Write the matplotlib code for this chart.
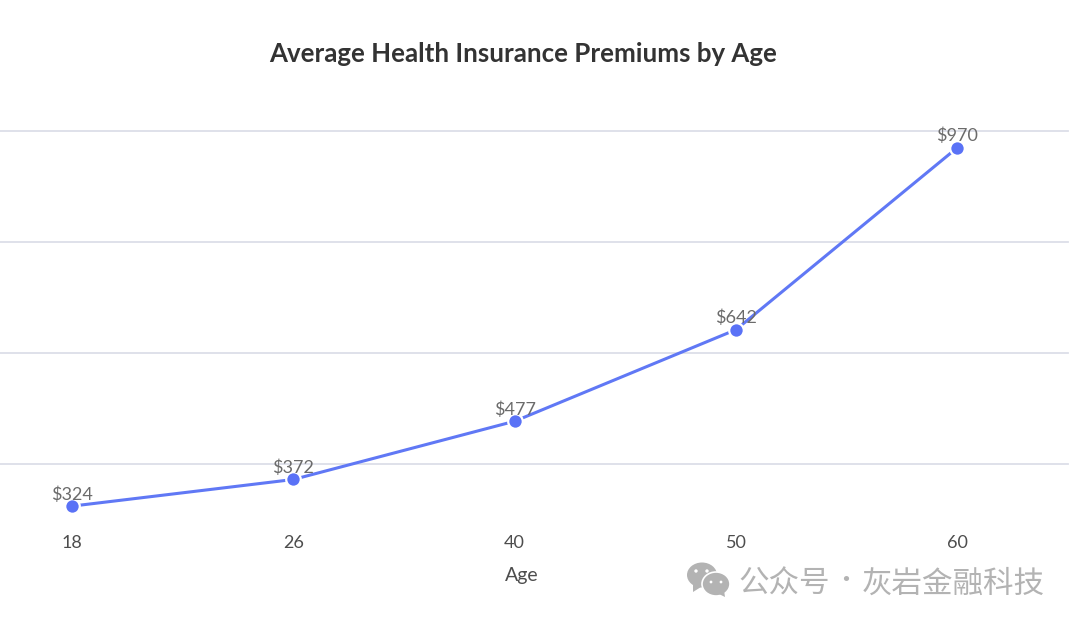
import matplotlib
matplotlib.use('Agg')
import matplotlib.pyplot as plt
from matplotlib.patches import Ellipse, Polygon

ages = ['18', '26', '40', '50', '60']
premiums = [324, 372, 477, 642, 970]
value_labels = ['$324', '$372', '$477', '$642', '$970']
grid_values = [400, 600, 800, 1000]

W, H = 1080, 624
fig = plt.figure(figsize=(W / 100, H / 100), dpi=100, facecolor='white')

# main axes, runs from the left edge to the end of the gridlines
ax = fig.add_axes([0, (H - 525) / H, 1068 / W, (525 - 131) / H])
x = list(range(len(ages)))
ax.set_xlim(-0.325, 4.5)
ax.set_ylim(290, 1000)

for v in grid_values:
    ax.axhline(v, color='#dcdee8', lw=1.3, zorder=1, clip_on=False)

ax.plot(x, premiums, color='#6078f5', lw=2.2, zorder=2)
ax.plot(x, premiums, 'o', color='#5a72f6', ms=10.5, mec='white', mew=1.6, zorder=3)

for i, v in enumerate(premiums):
    ax.annotate(value_labels[i], (x[i], v), xytext=(0, 2.5), textcoords='offset points',
                ha='center', va='bottom', fontsize=13, color='#6b6b6b',
                family='Lato', zorder=4)

ax.set_xticks(x)
ax.set_xticklabels(ages, fontsize=13, color='#4d4d4d', family='Lato')
ax.tick_params(axis='x', length=0, pad=7.5)
ax.set_yticks([])
for s in ax.spines.values():
    s.set_visible(False)

# overlay in pixel coordinates for title, axis label and watermark
ov = fig.add_axes([0, 0, 1, 1], zorder=5)
ov.set_xlim(0, W)
ov.set_ylim(H, 0)
ov.axis('off')
ov.patch.set_alpha(0)

ov.text(523, 54, 'Average Health Insurance Premiums by Age', ha='center', va='center',
        fontsize=18.6, fontweight='bold', color='#333333', family='Lato')
ov.text(522, 576, 'Age', ha='center', va='center', fontsize=14, color='#4d4d4d', family='Lato')

# watermark
grey = '#b3b3b3'
ov.add_patch(Ellipse((702, 575), 30, 25, color=grey, lw=0))
ov.add_patch(Polygon([(693, 584), (693, 592), (701, 587)], color=grey, lw=0))
ov.add_patch(Ellipse((716, 584), 28, 24, facecolor=grey, edgecolor='white', lw=1.2))
ov.add_patch(Polygon([(719, 594), (725, 597), (724, 590)], color=grey, lw=0))
for ex, ey, r in [(696, 571, 3.4), (707, 571, 3.4), (711, 582, 2.8), (721, 582, 2.8)]:
    ov.add_patch(Ellipse((ex, ey), r, r, color='white', lw=0))

cjk = ['Noto Sans CJK SC', 'DejaVu Sans']
ov.text(738, 584, '公众号', ha='left', va='center', fontsize=22, color=grey, family=cjk)
ov.text(846, 581, '·', ha='center', va='center', fontsize=18, color=grey, family=cjk)
ov.text(862, 584, '灰岩金融科技', ha='left', va='center', fontsize=22, color=grey, family=cjk)

fig.savefig('out.png', dpi=100, facecolor='white')
